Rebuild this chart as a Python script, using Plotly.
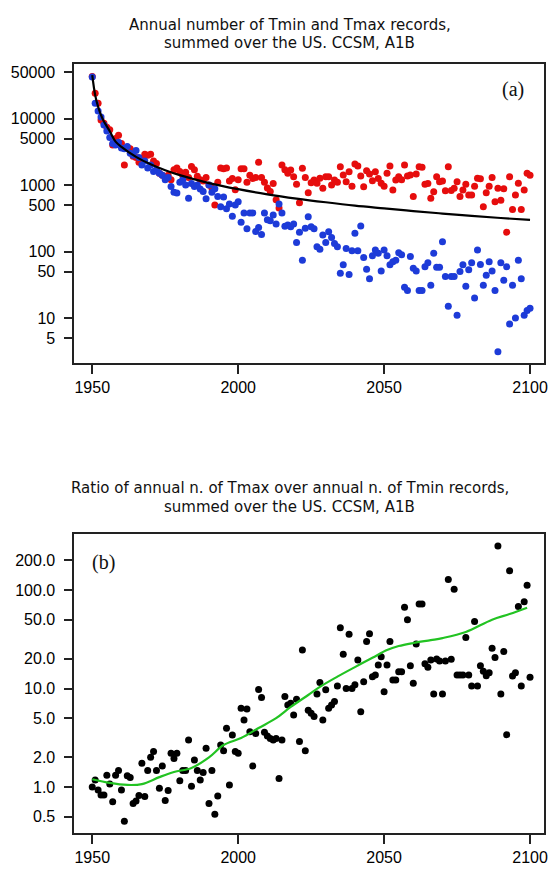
import plotly.graph_objects as go

years = list(range(1950, 2101))

tmin_records = [
    42000, 17000, 13000, 10500, 8000, 6500, 5200, 4200, 4000, 4400,
    3600, 3500, 3800, 3000, 2800, 3300, 2600, 2000, 2300, 1800,
    2000, 1600, 1700, 1500, 1400, 1200, 1300, 950, 780, 760,
    1100, 1200, 1000, 630, 1050, 950, 1000, 870, 800, 620,
    1000, 780, 880, 670, 470, 660, 440, 520, 340, 500,
    560, 275, 380, 220, 380, 380, 200, 230, 180, 380,
    300, 290, 355, 260, 520, 380, 240, 250, 236, 260,
    136, 194, 74, 223, 334, 236, 220, 118, 108, 177,
    136, 199, 163, 132, 118, 47, 63, 111, 45, 103,
    188, 103, 242, 81, 54, 39, 86, 105, 94, 51,
    105, 86, 63, 70, 74, 96, 89, 29, 26, 84,
    56, 51, 26, 26, 59, 68, 31, 94, 58, 58,
    140, 42, 15, 42, 42, 11, 50, 63, 30, 53,
    68, 20, 105, 64, 31, 44, 70, 51, 26, 3.1,
    68, 37, 59, 8.1, 31, 10, 74, 39, 11, 13,
    14,
]

tmax_records = [
    43000, 24000, 17000, 9500, 8500, 7400, 6800, 4000, 5000, 5600,
    4200, 2000, 3700, 3500, 2700, 2600, 2200, 2500, 2900, 2800,
    2900, 2300, 2100, 1500, 1400, 1300, 1400, 1200, 1700, 1800,
    1600, 1400, 1550, 1300, 1900, 1700, 1350, 1200, 1150, 1300,
    1000, 900, 500, 1100, 1800, 1750, 1800, 1150, 1250, 850,
    1200, 1750, 1750, 1100, 1400, 1250, 1300, 2200, 1300, 1100,
    900, 800, 1050, 600, 450, 2000, 1700, 1500, 1680, 1330,
    1030, 540, 1780, 1300, 766, 1080, 1190, 1060, 1260, 890,
    1330, 1330, 1000, 1190, 1100, 1880, 1410, 1120, 1580, 960,
    2070, 1930, 1370, 940, 1640, 1460, 1160, 1580, 1250, 1060,
    960, 1500, 1930, 840, 1190, 1330, 1200, 2000, 1370, 1410,
    670, 1460, 1880, 1850, 1030, 1050, 630, 790, 1330, 1120,
    1150, 820, 1880, 830, 890, 1120, 670, 840, 1030, 710,
    710, 960, 1260, 1240, 470, 766, 960, 1300, 560, 890,
    590, 880, 195, 1330, 430, 710, 1060, 430, 840, 1500,
    1400,
]

expected_years = [1950, 1951, 1952, 1953, 1954, 1956, 1958, 1960, 1965, 1970, 1975,
                  1980, 1990, 2000, 2010, 2020, 2030, 2040, 2050, 2060, 2070, 2080,
                  2090, 2100]
expected_records = [45000, 22500, 15000, 11250, 9000, 6430, 4500, 3750, 2650, 2045, 1670,
                    1406, 1070, 865, 725, 625, 550, 490, 445, 405, 372, 343, 319, 298]

ratio = [
    1.0, 1.18, 0.93, 0.83, 0.83, 1.32, 1.07, 0.71, 1.32, 1.47,
    0.93, 0.45, 1.3, 1.25, 0.68, 0.72, 0.82, 1.74, 0.8, 1.47,
    2.0, 2.3, 1.47, 0.97, 1.63, 0.73, 0.92, 2.2, 1.95, 2.2,
    1.16, 1.47, 1.47, 3.0, 1.02, 1.88, 1.47, 1.18, 1.4, 2.47,
    0.68, 1.47, 0.53, 0.81, 2.67, 2.34, 3.94, 1.05, 3.37, 2.3,
    2.2, 6.3, 4.8, 6.2, 3.64, 1.63, 3.5, 9.8, 8.1, 3.6,
    3.3, 3.1, 3.0, 3.1, 1.22, 3.0, 8.3, 6.8, 7.1, 5.4,
    7.8, 2.89, 24.6, 2.34, 6.0, 5.6, 5.2, 8.8, 11.5, 4.8,
    9.7, 6.3, 6.8, 7.4, 10.6, 41.5, 22.3, 10.0, 35.5, 10.0,
    10.9, 19.5, 5.8, 11.7, 30, 36, 13.2, 13.7, 17.3, 21,
    9.3, 17.3, 30, 12.2, 12.2, 14.8, 14.8, 67, 50, 17,
    11.3, 28.3, 72, 72, 17.8, 16.4, 19.5, 8.8, 20, 19,
    8.8, 19, 128, 19.8, 102, 13.7, 13.7, 13.7, 33, 13.7,
    10.6, 48, 10.6, 17, 15, 13.5, 14.5, 25.6, 20.7, 280,
    8.8, 23.7, 3.4, 157, 13.4, 14.5, 68, 10.6, 76, 112,
    13,
]

smooth_years = [1950, 1956, 1962, 1967, 1973, 1978, 1984, 1990, 1995, 2001, 2007, 2013,
                2018, 2024, 2028, 2034, 2040, 2046, 2051, 2055, 2060, 2066, 2070, 2078,
                2087, 2093, 2099]
smooth_ratio = [1.2, 1.1, 1.05, 1.07, 1.26, 1.42, 1.56, 2.0, 2.67, 3.14, 3.97, 5.0,
                6.5, 8.6, 10.4, 13.2, 16.5, 20.5, 24.6, 27, 29, 31, 32.5, 37.5,
                50, 57, 66]

a_ticks = [50000, 10000, 5000, 1000, 500, 100, 50, 10, 5]
a_ticktext = ["50000", "10000", "5000", "1000", "500", "100", "50", "10", "5"]
b_ticks = [200, 100, 50, 20, 10, 5, 2, 1, 0.5]
b_ticktext = ["200.0", "100.0", "50.0", "20.0", "10.0", "5.0", "2.0", "1.0", "0.5"]
x_ticks = [1950, 2000, 2050, 2100]

title_a_lines = ["Annual number of Tmin and Tmax records,", "summed over the US. CCSM, A1B"]
title_b_lines = ["Ratio of annual n. of Tmax over annual n. of Tmin records,",
                 "summed over the US. CCSM, A1B"]

W, H = 553, 869
RED = "#e60d0d"
BLUE = "#1d3bd8"

fig = go.Figure()
fig.add_trace(go.Scatter(x=years, y=tmax_records, mode="markers",
                         marker=dict(color=RED, size=7), xaxis="x", yaxis="y"))
fig.add_trace(go.Scatter(x=years, y=tmin_records, mode="markers",
                         marker=dict(color=BLUE, size=7), xaxis="x", yaxis="y"))
fig.add_trace(go.Scatter(x=expected_years, y=expected_records, mode="lines",
                         line=dict(color="black", width=2.2, shape="spline"),
                         xaxis="x", yaxis="y"))
fig.add_trace(go.Scatter(x=years, y=ratio, mode="markers",
                         marker=dict(color="black", size=7), xaxis="x2", yaxis="y2"))
fig.add_trace(go.Scatter(x=smooth_years, y=smooth_ratio, mode="lines",
                         line=dict(color="#22c322", width=2.2, shape="spline"),
                         xaxis="x2", yaxis="y2"))

FONT = "Liberation Sans, Arial, sans-serif"
TFONT = "DejaVu Sans, sans-serif"
xdom = [75 / W, 548 / W]
ya = [(H - 363) / H, (H - 64) / H]
yb = [(H - 833) / H, (H - 534) / H]

axis_common = dict(showline=True, mirror=True, linewidth=2, linecolor="#222",
                   ticks="outside", tickcolor="#222", tickwidth=1.5,
                   showgrid=False, zeroline=False,
                   tickfont=dict(family=FONT, size=16, color="black"))


def title_ann(text, ypix):
    return dict(text=text, x=292 / W, y=(H - ypix) / H, xref="paper", yref="paper",
                showarrow=False, xanchor="center", yanchor="middle",
                font=dict(family=TFONT, size=15, color="#111"))


annotations = [
    title_ann(title_a_lines[0], 25),
    title_ann(title_a_lines[1], 43),
    title_ann(title_b_lines[0], 488),
    title_ann(title_b_lines[1], 507),
    dict(text="(a)", x=517 / W, y=(H - 89) / H, xref="paper", yref="paper",
         showarrow=False, xanchor="center", yanchor="middle",
         font=dict(family="Liberation Serif, Times New Roman, serif", size=20, color="#111")),
    dict(text="(b)", x=104 / W, y=(H - 562) / H, xref="paper", yref="paper",
         showarrow=False, xanchor="center", yanchor="middle",
         font=dict(family="Liberation Serif, Times New Roman, serif", size=20, color="#111")),
]

fig.update_layout(
    width=W, height=H,
    margin=dict(l=0, r=0, t=0, b=0),
    paper_bgcolor="white", plot_bgcolor="white",
    showlegend=False,
    xaxis=dict(domain=xdom, range=[1943.9, 2104.8], tickvals=x_ticks, ticklen=9,
               anchor="y", **axis_common),
    yaxis=dict(domain=ya, type="log", range=[0.323, 4.82], tickvals=a_ticks,
               ticktext=a_ticktext, ticklen=8, ticklabelstandoff=6, anchor="x", **axis_common),
    xaxis2=dict(domain=xdom, range=[1943.9, 2104.8], tickvals=x_ticks, ticklen=9,
                anchor="y2", **axis_common),
    yaxis2=dict(domain=yb, type="log", range=[-0.467, 2.569], tickvals=b_ticks,
                ticktext=b_ticktext, ticklen=8, ticklabelstandoff=6, anchor="x2", **axis_common),
    annotations=annotations,
)

fig.write_html("out.html")
